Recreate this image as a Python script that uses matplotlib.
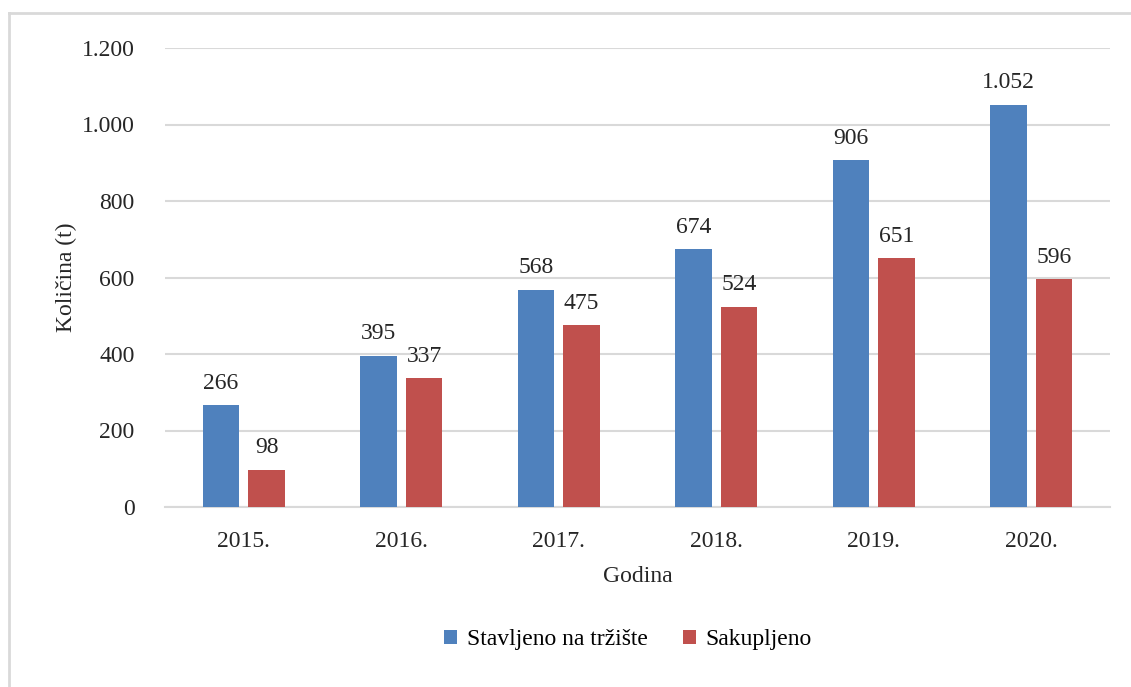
import matplotlib
matplotlib.use("Agg")
import matplotlib.pyplot as plt
from matplotlib.lines import Line2D
import numpy as np

years = ["2015.", "2016.", "2017.", "2018.", "2019.", "2020."]
placed = [266, 395, 568, 674, 906, 1052]
collected = [98, 337, 475, 524, 651, 596]
series_names = ["Stavljeno na tržište", "Sakupljeno"]
yticks = [0, 200, 400, 600, 800, 1000, 1200]

def fmt(v):
	return "{:,}".format(v).replace(",", ".")

plt.rcParams["font.family"] = ["Liberation Serif", "DejaVu Serif"]
fs = 17

fig = plt.figure(figsize=(11.31, 6.87), dpi=100)
ax = fig.add_axes([165/1131, 180/687, 945/1131, 459/687])

x = np.arange(len(years))
w = 0.23
off = 0.145
b1 = ax.bar(x - off, placed, w, color="#4F81BD", label=series_names[0], zorder=3)
b2 = ax.bar(x + off, collected, w, color="#C0504D", label=series_names[1], zorder=3)

for bars, vals in ((b1, placed), (b2, collected)):
	for b, v in zip(bars, vals):
		ax.text(b.get_x() + b.get_width()/2, v + 30, fmt(v), ha="center", va="bottom",
			fontsize=fs, color="#262626")

ax.set_xlim(-0.5, len(years) - 0.5)
ax.set_ylim(0, 1200)
ax.set_yticks(yticks)
ax.set_yticklabels([fmt(t) for t in yticks])
ax.set_xticks(x)
ax.set_xticklabels(years)
ax.tick_params(axis="both", length=0, labelsize=fs, colors="#262626")
ax.tick_params(axis="y", pad=22)
ax.tick_params(axis="x", pad=17)
ax.grid(axis="y", color="#D9D9D9", linewidth=1.5, zorder=0)
for s in ["top", "right", "left"]:
	ax.spines[s].set_visible(False)
ax.spines["bottom"].set_color("#D9D9D9")
ax.spines["bottom"].set_linewidth(1.5)

ax.set_ylabel("Količina (t)", fontsize=fs, color="#262626", labelpad=3)
ax.set_xlabel("Godina", fontsize=fs, color="#262626", labelpad=10)

ax.legend(loc="upper center", bbox_to_anchor=(0.49, -0.22), ncol=2, frameon=False,
	fontsize=fs, handlelength=0.55, handleheight=0.55, handletextpad=0.4, columnspacing=1.5)

# outer chart frame (left and top edges visible)
fig.add_artist(Line2D([9/1131, 9/1131], [0, 1 - 13/687], transform=fig.transFigure,
	color="#D9D9D9", linewidth=2))
fig.add_artist(Line2D([9/1131, 1], [1 - 13/687, 1 - 13/687], transform=fig.transFigure,
	color="#D9D9D9", linewidth=2))

fig.savefig("out.png", dpi=100)
